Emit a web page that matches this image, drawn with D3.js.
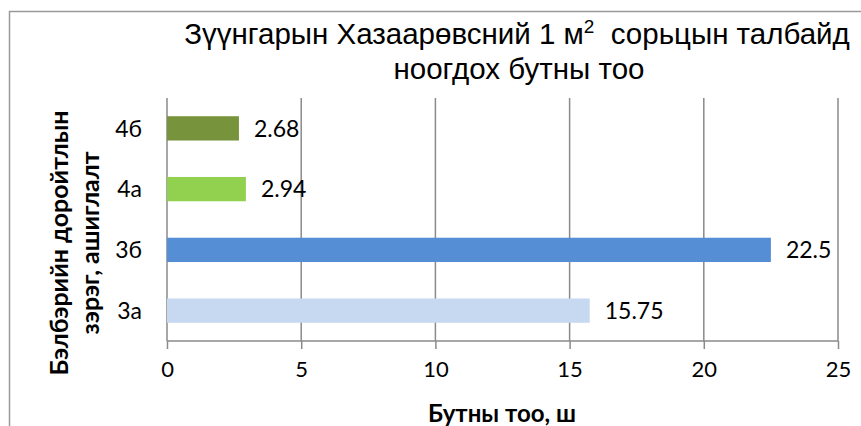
<!DOCTYPE html>
<html>
<head>
<meta charset="utf-8">
<script src="https://cdn.jsdelivr.net/npm/d3@7"></script>
<style>
  html, body { margin: 0; padding: 0; background: #fff; }
  svg { display: block; }
</style>
</head>
<body>
<svg id="chart" width="861" height="426"></svg>
<script>
// Degradation level / usage categories (top to bottom) and shrub counts per 1 m²
const categories = ["4б", "4а", "3б", "3а"];
const values = [2.68, 2.94, 22.5, 15.75];
const barColors = ["#77933C", "#92D050", "#558ED5", "#C6D9F1"];
const xTicks = [0, 5, 10, 15, 20, 25];

const titleLine1 = ["Зүүнгарын Хазаарөвсний 1 м", "2", "  сорьцын талбайд"];
const titleLine2 = "ноогдох бутны тоо";
const yTitleLines = ["Бэлбэрийн доройтлын", "зэрэг, ашиглалт"];
const xTitle = "Бутны тоо, ш";

const svg = d3.select("#chart");
const W = 861, H = 426;
const plot = { left: 167, right: 838, top: 98, bottom: 341 };

const labelFont = "Lato, 'Open Sans', sans-serif";
const gridColor = "#8a8a8a";

// outer chart frame
svg.append("rect")
  .attr("x", 9.5).attr("y", 11.5)
  .attr("width", W + 20).attr("height", H + 20)
  .attr("fill", "none").attr("stroke", "#9a9a9a").attr("stroke-width", 1.5);

const x = d3.scaleLinear().domain([0, 25]).range([plot.left, plot.right]);
const y = d3.scaleBand().domain(categories)
  .range([plot.top, plot.bottom]).paddingInner(0.6).paddingOuter(0.3);

// vertical gridlines
svg.append("g").selectAll("line")
  .data(xTicks.filter(d => d > 0))
  .join("line")
  .attr("x1", d => x(d)).attr("x2", d => x(d))
  .attr("y1", plot.top).attr("y2", plot.bottom)
  .attr("stroke", gridColor).attr("stroke-width", 1.5);

// category axis line at zero
svg.append("line")
  .attr("x1", x(0)).attr("x2", x(0))
  .attr("y1", plot.top).attr("y2", plot.bottom)
  .attr("stroke", gridColor).attr("stroke-width", 1.5);

// value axis along the bottom
const xAxis = d3.axisBottom(x).tickValues(xTicks).tickSize(8).tickPadding(12).tickFormat(d3.format("d"));
const gx = svg.append("g").attr("transform", `translate(0,${plot.bottom})`).call(xAxis);
gx.select(".domain").attr("stroke", gridColor).attr("stroke-width", 1.5).attr("d", `M${x(0)},0H${x(25)}`);
gx.selectAll(".tick line").attr("stroke", gridColor).attr("stroke-width", 1.5);
gx.selectAll(".tick text")
  .attr("font-family", labelFont).attr("font-size", 22).attr("fill", "#000");

// bars
svg.append("g").selectAll("rect")
  .data(categories)
  .join("rect")
  .attr("x", x(0))
  .attr("y", d => y(d))
  .attr("width", (d, i) => x(values[i]) - x(0))
  .attr("height", y.bandwidth())
  .attr("fill", (d, i) => barColors[i]);

// value labels
svg.append("g").selectAll("text")
  .data(categories)
  .join("text")
  .attr("x", (d, i) => x(values[i]) + 15)
  .attr("y", d => y(d) + y.bandwidth() / 2)
  .attr("dy", "0.36em")
  .attr("font-family", labelFont).attr("font-size", 23).attr("fill", "#000")
  .text((d, i) => String(values[i]));

// category labels
svg.append("g").selectAll("text")
  .data(categories)
  .join("text")
  .attr("x", 142)
  .attr("y", d => y(d) + y.bandwidth() / 2)
  .attr("dy", "0.36em")
  .attr("text-anchor", "end")
  .attr("font-family", labelFont).attr("font-size", 23).attr("fill", "#000")
  .text(d => d);

// chart title
const titleFont = "'Liberation Sans', Arial, sans-serif";
const t1 = svg.append("text")
  .attr("x", 517).attr("y", 44)
  .attr("text-anchor", "middle")
  .attr("font-family", titleFont).attr("font-size", 29.5).attr("fill", "#000")
  .attr("xml:space", "preserve");
t1.append("tspan").text(titleLine1[0]);
t1.append("tspan").attr("dy", -11).attr("font-size", 19).text(titleLine1[1]);
t1.append("tspan").attr("dy", 11).text(titleLine1[2]);

svg.append("text")
  .attr("x", 519).attr("y", 79)
  .attr("text-anchor", "middle")
  .attr("font-family", titleFont).attr("font-size", 29.5).attr("fill", "#000")
  .text(titleLine2);

// value axis title
svg.append("text")
  .attr("x", 502).attr("y", 422)
  .attr("text-anchor", "middle")
  .attr("font-family", labelFont).attr("font-weight", "bold")
  .attr("font-size", 24).attr("fill", "#000")
  .text(xTitle);

// category axis title (two rotated lines)
const yMid = 243;
svg.append("g").selectAll("text")
  .data(yTitleLines)
  .join("text")
  .attr("transform", (d, i) => `translate(${i === 0 ? 68 : 99},${yMid}) rotate(-90)`)
  .attr("text-anchor", "middle")
  .attr("font-family", labelFont).attr("font-weight", "bold")
  .attr("font-size", 25).attr("fill", "#000")
  .text(d => d);
</script>
</body>
</html>
